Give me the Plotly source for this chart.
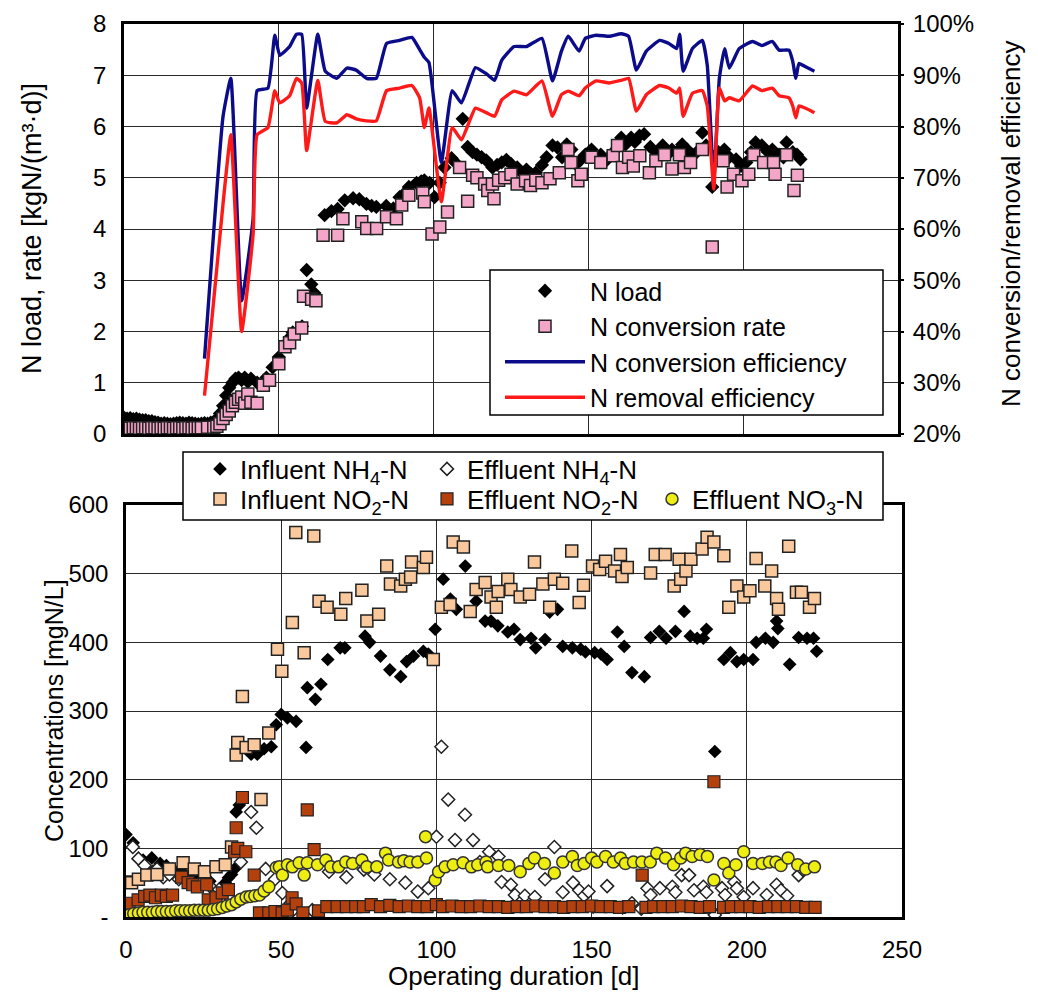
import plotly.graph_objects as go

# ---------------- DATA ----------------
# Top panel: N load and N conversion rate [kgN/(m3*d)]
load_day = [0,1,2,3,4,5,6,7,8,9,
            10,11,12,13,14,15,16,17,18,19,
            20,21,22,23,24,25,26,27,28,29,
            30,31,32,33,34,35,36,37,38,39,
            40,41,43,46,48,50,52,53.5,54.5,57.5,
            59,60.5,61.5,64.8,67,69,71.3,74,76,78.3,
            80,81.5,84.7,87,89,91,92,94.5,96,97,
            98.7,100.3,102,103.5,105.8,107,109.4,111,112.6,114,
            115.5,117,119,120.5,122,123.5,125,127,128.5,130,
            131.5,133,135,136.5,138.4,140,141.5,143,144.5,146,
            147.5,149,151,152.5,154,156,158,160.6,162,163.8,
            165,166.5,168,170,172,174,175.5,177,178.5,180.3,
            181.9,183.5,185,186.8,188,190,192,193.9,195.5,197.7,
            199.3,201,202.5,204,206,208,209.4,211.6,213,214,
            216,217.4,218.5]
load_val = [0.32,0.30,0.31,0.29,0.30,0.28,0.27,0.27,0.25,0.25,
            0.23,0.22,0.20,0.21,0.20,0.19,0.20,0.21,0.22,0.21,
            0.20,0.22,0.21,0.20,0.19,0.20,0.21,0.20,0.22,0.24,
            0.28,0.40,0.55,0.75,0.90,1.00,1.08,1.10,1.05,1.10,
            1.02,1.08,1.00,1.10,1.30,1.50,1.75,1.88,1.98,2.10,
            3.20,2.92,2.75,4.27,4.35,4.39,4.56,4.60,4.58,4.49,
            4.45,4.43,4.45,4.40,4.62,4.72,4.82,4.90,4.93,4.95,
            4.90,4.62,4.90,5.20,5.38,5.30,6.15,5.60,5.50,5.45,
            5.40,5.34,5.20,5.25,5.30,5.35,5.27,5.20,5.10,5.16,
            5.07,5.10,5.25,5.40,5.63,5.59,5.40,5.65,5.55,5.26,
            5.35,5.45,5.55,5.40,5.45,5.35,5.50,5.78,5.65,5.78,
            5.70,5.82,5.85,5.60,5.50,5.63,5.45,5.55,5.50,5.65,
            5.55,5.45,5.50,5.88,5.63,4.82,5.50,5.55,5.40,5.36,
            5.23,5.30,5.50,5.69,5.63,5.50,5.55,5.45,5.40,5.69,
            5.50,5.45,5.36]

conv_day = [0,1,2,3,4,5,6,7,8,9,
            10,11,12,13,14,15,16,17,18,19,
            20,21,22,23,24,25,27,29,30,31,
            32,33,34,35,36,37,38,39,40,41,
            43,45,47,50,52,53.5,55,57.4,58,60.6,
            62,64.3,69,70.7,76.8,78.4,81.6,84.8,88,89.7,
            92,96.5,97,99.5,102,104.5,108.4,111,112.6,114,
            116.5,117.5,119,119.5,121,123,125,127,129.7,131.3,
            133,135,137.6,140.6,143.4,144.4,146.6,147.7,151,154,
            158,159.4,161,163,164.5,166.6,169.7,171.8,174.6,177,
            179.4,181,183,186.8,190,193.5,194.8,196.9,199.6,201.8,
            203.4,206.6,209.8,210.3,214,216.4,217.5]
conv_val = [0.12,0.12,0.11,0.12,0.12,0.11,0.12,0.12,0.11,0.12,
            0.12,0.11,0.12,0.11,0.12,0.12,0.11,0.12,0.12,0.11,
            0.12,0.12,0.11,0.12,0.12,0.12,0.13,0.13,0.15,0.20,
            0.30,0.38,0.45,0.55,0.62,0.68,0.72,0.60,0.78,0.62,
            0.60,0.95,1.05,1.37,1.70,1.78,1.95,2.07,2.69,2.63,
            2.60,3.88,3.88,4.20,4.14,4.01,4.01,4.24,4.20,4.47,
            4.66,4.70,4.53,3.90,4.04,4.33,5.20,4.54,5.05,5.00,
            4.88,4.75,4.88,4.59,4.95,5.00,5.07,4.88,4.94,4.85,
            4.95,4.90,4.98,5.10,5.55,5.30,4.94,5.07,5.40,5.30,
            5.43,5.63,5.20,5.40,5.23,5.43,5.10,5.33,5.45,5.17,
            5.45,5.20,5.30,5.55,3.65,5.33,4.82,5.07,4.94,5.07,
            5.45,5.30,5.30,5.07,5.45,4.75,5.05]

# Top panel: efficiencies [%]
eff_day = [26,32,34.5,38,41.7,43,46.5,48.7,50.3,53.5,
           55.7,57.4,59,62.6,65,68.7,72,75,78.3,81.5,
           84.8,89,93,95.5,97,98.5,102.5,106,109,113.5,
           117,119.7,122,126,130,135,138.4,141.3,143.5,147,
           149,152.5,156.8,160.6,163,165.5,168.7,173,176,178.5,
           179.5,180.6,183.6,186.8,188.4,190.5,192.3,194,195.5,198.7,
           203,206,209.4,211.6,214.8,216,217,218,220,223]
conv_eff = [34.7,82,89.4,46,62,87,87.5,97.8,93.9,95.6,
            98,98,83.6,98,90.8,89.4,91.4,91,89.4,89.4,
            96.2,96.8,97.4,95,93.5,92.5,73,87,84.6,91.5,
            90.3,89,92.9,95.6,95.6,97.2,88.9,94.7,97.6,94.7,
            97.2,97.8,97.6,98.1,97.6,91,94.7,96.8,96.2,95.2,
            98,90.8,95.2,96.8,91.9,69.5,89.4,95.2,91.4,95.2,
            96.6,95.8,96.6,94.9,94.9,92.7,89.4,92.3,91.7,90.8]
rem_eff = [27.5,65,78.4,40,59,78.4,79.8,87,84.6,86,
           89.4,88.5,75.3,89,81,80.7,82.3,81.5,81.1,81.1,
           87,87.5,88,85.6,79.8,83.6,65.3,79.8,77.4,83.6,
           82.7,82,85.2,86.9,86.2,88.9,82,86.2,86.9,86,
           87.5,88.9,88.5,89,89.4,83,86.2,88,87.5,86.5,
           87.5,82,86.5,87,84,67.8,87.5,85,85.6,85,
           87.9,87,87.5,86,85.6,84,81.7,84,83.6,82.7]

# Bottom panel: concentrations [mgN/L]
inh4_day = [0,2.3,5.5,8.3,11,13,15,17,19,21,
            23,25,27,30,31,32,33,34,35,35.5,
            36.5,40.3,42.3,44.5,46.8,48.4,50,52,54.8,58,
            58.4,61,62.8,65,69,70.5,77,78.5,82,85,
            88.5,90.4,92.6,95.8,97.4,99.6,102.2,104.5,106.4,109.3,
            112.8,115.7,117.6,119.8,123,125,127,130.5,132,135,
            136.5,139,140.7,143.8,146.5,148,151,153,155,158.3,
            160.5,163,167,169,171.8,174,177,179.8,181.8,184,
            186,187,189.7,192.6,194.7,196.8,199,202,203,206,
            208.5,209.6,210,213.8,216.7,219.4,221.5,222.5]
inh4_val = [120,108,83,86,78,75,70,66,62,60,
            58,55,52,30,40,50,57,62,70,153,
            163,237,237,245,248,280,295,290,285,247,
            334,317,339,375,392,392,409,400,380,360,
            350,372,380,387,383,419,492,463,448,511,
            460,431,431,424,415,419,404,406,392,404,
            444,448,394,392,390,386,385,383,375,415,
            394,356,350,407,416,406,416,445,409,406,
            406,419,241,375,385,372,375,375,400,406,
            400,431,420,368,407,406,406,387]

enh4_day = [2.2,4,6,8.7,10,12,14,17,20,24,
            27,30,33,37,40.3,42,45,48,50.4,53,
            55.8,60,65.4,71,76.6,80,85,90,94,97.4,
            100,101.6,103.8,106,109.2,111.8,114,117,120,121,
            124,125.3,128.5,131.7,135,138,140.7,144,146,147.6,
            149,150.5,155,160,163,166,168,169,172,176,
            177,179,181.4,183,186,187,188,189.7,192,193,
            196,196.8,199,202,206.4,209.6,211,213,216.7,218]
enh4_val = [102,85,75,66,70,58,62,55,50,48,
            45,40,30,80,153,130,70,55,35,20,
            0,10,66,58,69,62,55,50,37,42,
            117,248,171,112,149,112,80,95,88,51,
            47,32,31,29,55,102,36,50,39,31,
            37,15,45,14,20,12,42,32,42,44,
            36,61,61,39,44,36,12,3,42,32,
            51,42,29,42,32,47,39,31,61,69]

ino2_day = [0,1.8,4,6.7,10,14,18.4,22,25.3,29,
            32,34,35.5,36,37.5,38.7,41.3,43.5,46,48.8,
            50.2,53.6,54.7,57.4,60.5,62.2,64.8,69.2,70.8,76,
            77.6,81.4,84,85.2,88.5,90,91.7,92,95.8,96.8,
            99,101.6,104.4,105.4,108.7,110.9,112.8,115.7,117.6,119.3,
            119.9,123,124,127,130,131.6,134.3,136.5,138,140.7,
            143.6,146,147.4,150.3,152.6,154.5,157.4,159.3,159.8,161.5,
            169,170.5,173.7,176.6,178.2,178.7,180.4,182,185.6,187.2,
            189.4,192.6,194.2,196.8,199,201,203,205.8,208,209.6,
            210.2,213.5,216,217.6,220.2,221.8]
ino2_val = [51,50,55,61,62,70,79,70,66,73,
            76,102,236,254,321,247,251,171,268,390,
            358,429,560,385,555,460,451,441,464,476,
            431,441,511,485,482,492,495,517,509,524,
            375,451,455,546,539,445,477,487,466,451,
            474,492,477,466,470,517,485,451,492,486,
            533,458,483,511,506,518,504,528,496,509,
            501,528,528,482,521,492,504,521,536,553,
            546,526,451,482,466,475,522,482,504,464,
            448,540,473,473,451,464]

eno2_day = [1,3.9,6,7.7,9.5,11.4,13,15,17.9,20,
            21.5,23,26,26.5,29,31,33,35,35.5,36,
            37.5,38.6,41.3,43,46,48,50.3,52,53.5,54.8,
            57,58.4,60.6,62,64.7,68,71,74,76.5,79,
            82,85,88,91,94,97,100,102,105,108,
            111,114,117,120,123,126,129,132,135,138,
            141,144,147,150,153,156,159,162,166.3,167.5,
            170,173,176,179,182,185,188,189.4,192.5,195,
            198,201,204,207,210,213,216,219,222]
eno2_val = [20,25,30,32,28,32,30,32,58,50,
            47,44,47,25,28,35,40,95,130,100,
            174,95,61,6,6,8,6,10,28,19,
            6,156,98,9,15,15,15,15,15,18,
            15,17,15,16,15,15,18,15,16,15,
            15,16,15,15,14,15,15,16,15,15,
            14,15,15,16,15,15,14,15,61,14,
            15,15,15,16,15,14,15,197,14,15,
            15,15,14,15,15,15,15,14,14]

eno3_day = [1,2.5,4,5.5,7,8.5,10,11.5,13,14.5,
            16,17.5,19,20.5,22,23.5,25,26.5,28,29.5,
            31,32.5,34,35.5,37,38.7,40,41.5,43,44.5,
            46,48.4,49.4,50.4,52,53.6,55.8,57.4,58.4,61.7,
            64.4,66,68.5,70.8,73,76,77.6,80.8,83.6,84.6,
            87.8,89.5,91.5,94,96.5,96.8,99.6,100.7,102.8,105.4,
            108.6,111.3,113.3,116,116.5,120,123.3,127,129.8,131.6,
            134.8,138,140.7,143.8,145.4,147.6,150,151.7,154.5,157,
            159.3,160.9,163.5,166.2,168.9,171,173.8,176.4,178.7,180.3,
            182.4,185,187.3,189.4,192.6,194.2,196.5,199,202,205,
            207.3,209.4,211,213.3,216.4,219,221.8]
eno3_val = [3,5,6,7,7,7,8,8,8,8,
            9,9,9,9,10,10,10,10,11,12,
            14,16,18,22,26,29,30,31,32,38,
            44,72,73,61,76,73,79,61,79,76,
            83,73,73,80,78,83,73,73,93,83,
            80,82,80,80,117,86,54,66,73,76,
            79,73,76,80,73,75,75,66,78,86,
            78,64,80,88,75,78,86,80,88,80,
            86,78,80,80,80,93,86,76,86,93,
            88,91,88,54,78,64,76,95,78,78,
            80,80,75,86,76,70,73]

top_left_ticks = [0, 1, 2, 3, 4, 5, 6, 7, 8]
top_right_ticks = [20, 30, 40, 50, 60, 70, 80, 90, 100]
bottom_ticks = [0, 100, 200, 300, 400, 500, 600]
bottom_ticktext = ['-', '100', '200', '300', '400', '500', '600']
x_ticks = [0, 50, 100, 150, 200, 250]

# ---------------- FIGURE ----------------
# the page body keeps an 8 px margin, so the figure is 16 px smaller than the window
OFF = 8
W, H = 1021, 985
FONT = 'Liberation Sans, Arial, sans-serif'
TICK = 24
LEG = 26


def fx(p):
    return (p - OFF) / W


def fy(p):
    return 1 - (p - OFF) / H


fig = go.Figure()

# top panel
fig.add_trace(go.Scatter(x=load_day, y=load_val, mode='markers', name='N load',
                         marker=dict(symbol='diamond', size=11, color='black', line=dict(width=0)),
                         xaxis='x', yaxis='y', legend='legend', legendgroup='a'))
fig.add_trace(go.Scatter(x=conv_day, y=conv_val, mode='markers', name='N conversion rate',
                         marker=dict(symbol='square', size=12, color='#F4A6C8',
                                     line=dict(width=1.5, color='#222222')),
                         xaxis='x', yaxis='y', legend='legend', legendgroup='b'))
fig.add_trace(go.Scatter(x=eff_day, y=conv_eff, mode='lines', name='N conversion efficiency',
                         line=dict(color='#0C0C8A', width=3.4, shape='spline', smoothing=0.4),
                         xaxis='x', yaxis='y2', legend='legend', legendgroup='c'))
fig.add_trace(go.Scatter(x=eff_day, y=rem_eff, mode='lines', name='N removal efficiency',
                         line=dict(color='#FF1A1A', width=3.4, shape='spline', smoothing=0.4),
                         xaxis='x', yaxis='y2', legend='legend', legendgroup='d'))

# bottom panel
fig.add_trace(go.Scatter(x=inh4_day, y=inh4_val, mode='markers', name='Influent NH<sub>4</sub>-N',
                         marker=dict(symbol='diamond', size=10.5, color='black', line=dict(width=0)),
                         xaxis='x2', yaxis='y3', legend='legend2'))
fig.add_trace(go.Scatter(x=enh4_day, y=enh4_val, mode='markers', name='Effluent NH<sub>4</sub>-N',
                         marker=dict(symbol='diamond', size=10, color='white',
                                     line=dict(width=1.5, color='#222222')),
                         xaxis='x2', yaxis='y3', legend='legend3'))
fig.add_trace(go.Scatter(x=ino2_day, y=ino2_val, mode='markers', name='Influent NO<sub>2</sub>-N',
                         marker=dict(symbol='square', size=12, color='#F9C89C',
                                     line=dict(width=1.5, color='#222222')),
                         xaxis='x2', yaxis='y3', legend='legend4'))
fig.add_trace(go.Scatter(x=eno2_day, y=eno2_val, mode='markers', name='Effluent NO<sub>2</sub>-N',
                         marker=dict(symbol='square', size=12, color='#B4400E',
                                     line=dict(width=1.2, color='#222222')),
                         xaxis='x2', yaxis='y3', legend='legend5'))
fig.add_trace(go.Scatter(x=eno3_day, y=eno3_val, mode='markers', name='Effluent NO<sub>3</sub>-N',
                         marker=dict(symbol='circle', size=12, color='#EEEE10',
                                     line=dict(width=1.5, color='#333333')),
                         xaxis='x2', yaxis='y3', legend='legend6'))

axis_common = dict(showline=True, mirror=True, linecolor='black', linewidth=2.5,
                   gridcolor='#2a2a2a', gridwidth=1.2, zeroline=False, automargin=False,
                   tickfont=dict(family=FONT, size=TICK, color='black'))

leg_common = dict(font=dict(family=FONT, size=LEG, color='black'),
                  bgcolor='rgba(0,0,0,0)', borderwidth=0, orientation='h',
                  xanchor='left', yanchor='middle', itemwidth=30)

fig.update_layout(
    width=W, height=H,
    margin=dict(l=0, r=0, t=0, b=0, autoexpand=False),
    paper_bgcolor='white', plot_bgcolor='white',
    font=dict(family=FONT, color='black'),
    showlegend=True,
    xaxis=dict(axis_common, domain=[fx(124), fx(898)], range=[0, 250], tickvals=x_ticks,
               showticklabels=False, showgrid=True, anchor='y'),
    yaxis=dict(axis_common, domain=[fy(434), fy(24)], range=[0, 8], tickvals=top_left_ticks,
               showgrid=True, anchor='x', ticks='', ticklabelstandoff=10,
               ticklabeloverflow='allow'),
    yaxis2=dict(overlaying='y', side='right', range=[20, 100], tickvals=top_right_ticks,
                ticktext=[f'{v}%' for v in top_right_ticks], showgrid=False, zeroline=False,
                showline=False, ticks='outside', ticklen=5, tickcolor='black', tickwidth=1.5,
                tickfont=dict(family=FONT, size=TICK, color='black'), anchor='x',
                ticklabelstandoff=4, automargin=False, ticklabeloverflow='allow'),
    xaxis2=dict(axis_common, domain=[fx(126), fx(902)], range=[0, 250], tickvals=x_ticks,
                showgrid=True, anchor='y3', ticks='', ticklabelstandoff=9),
    yaxis3=dict(axis_common, domain=[fy(917), fy(505)], range=[0, 600], tickvals=bottom_ticks,
                ticktext=bottom_ticktext, showgrid=True, anchor='x2', ticks='',
                ticklabelstandoff=10),
    legend=dict(font=dict(family=FONT, size=25, color='black'), bgcolor='rgba(0,0,0,0)',
                borderwidth=0, orientation='v', x=fx(500), y=fy(268), xanchor='left',
                yanchor='top', itemwidth=80, traceorder='grouped', tracegroupgap=0),
    legend2=dict(leg_common, x=fx(200), y=fy(469)),
    legend3=dict(leg_common, x=fx(427), y=fy(469)),
    legend4=dict(leg_common, x=fx(200), y=fy(499)),
    legend5=dict(leg_common, x=fx(427), y=fy(499)),
    legend6=dict(leg_common, x=fx(652), y=fy(499)),
    shapes=[
        dict(type='rect', xref='paper', yref='paper', x0=fx(490), x1=fx(883), y0=fy(415), y1=fy(270),
             fillcolor='white', line=dict(color='black', width=1.5), layer='above'),
        dict(type='rect', xref='paper', yref='paper', x0=fx(183), x1=fx(883), y0=fy(520), y1=fy(452),
             fillcolor='white', line=dict(color='black', width=1.5), layer='above'),
    ],
    annotations=[
        dict(text='N load, rate [kgN/(m³·d)]', xref='paper', yref='paper', x=fx(32), y=fy(229),
             textangle=-90, showarrow=False, xanchor='center', yanchor='middle',
             font=dict(family=FONT, size=27, color='black')),
        dict(text='N conversion/removal efficiency', xref='paper', yref='paper', x=fx(1011), y=fy(224),
             textangle=-90, showarrow=False, xanchor='center', yanchor='middle',
             font=dict(family=FONT, size=26, color='black')),
        dict(text='Concentrations [mgN/L]', xref='paper', yref='paper', x=fx(54), y=fy(711),
             textangle=-90, showarrow=False, xanchor='center', yanchor='middle',
             font=dict(family=FONT, size=25, color='black')),
        dict(text='Operating duration [d]', xref='paper', yref='paper', x=fx(514), y=0,
             showarrow=False, xanchor='center', yanchor='bottom',
             font=dict(family=FONT, size=26, color='black')),
    ],
)

fig.write_html("out.html", config={'displayModeBar': False})
